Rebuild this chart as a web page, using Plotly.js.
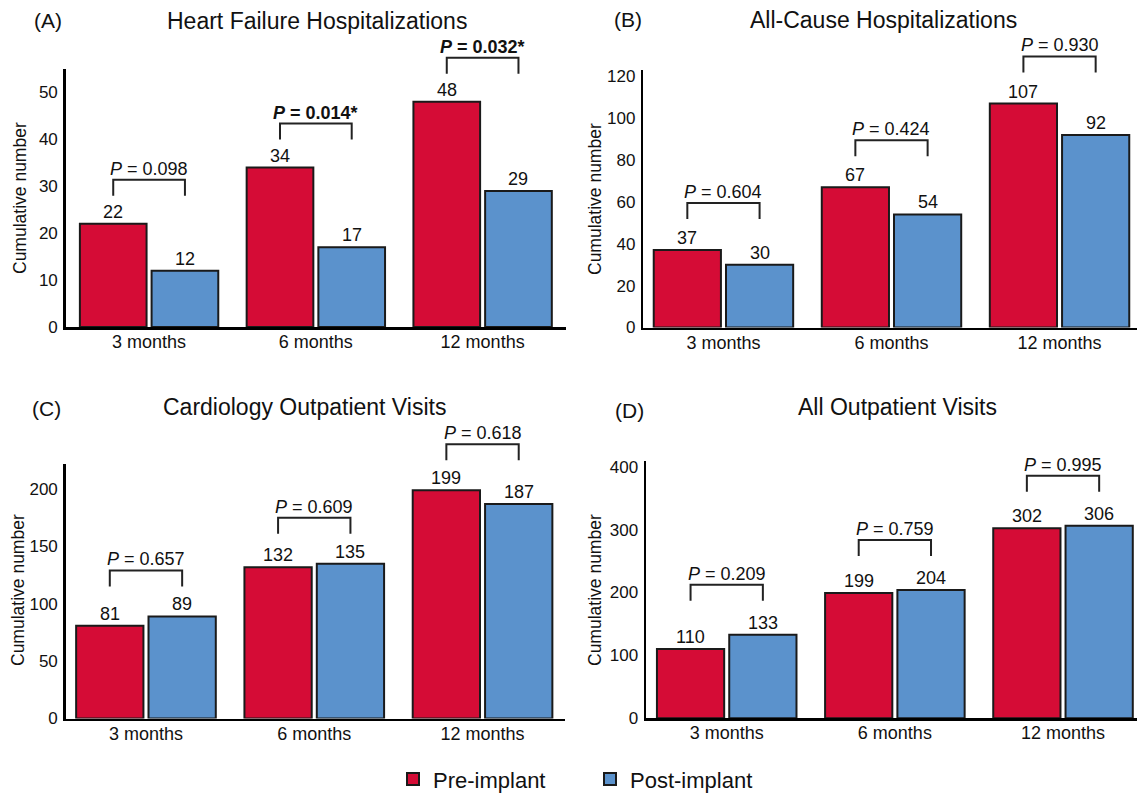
<!DOCTYPE html>
<html>
<head>
<meta charset="utf-8">
<script src="https://cdn.plot.ly/plotly-3.0.1.min.js"></script>
<style>html,body{margin:0;padding:0;background:#fff;}#chart{width:1137px;height:801px;}</style>
</head>
<body>
<div id="chart"></div>
<script>
// ---- Data ----
const categories = ['3 months', '6 months', '12 months'];
const seriesNames = ['Pre-implant', 'Post-implant'];

const hfPre = [22, 34, 48];
const hfPost = [12, 17, 29];
const hfP = ['0.098', '0.014', '0.032'];
const hfSig = [false, true, true];

const acPre = [37, 67, 107];
const acPost = [30, 54, 92];
const acP = ['0.604', '0.424', '0.930'];
const acSig = [false, false, false];

const coPre = [81, 132, 199];
const coPost = [89, 135, 187];
const coP = ['0.657', '0.609', '0.618'];
const coSig = [false, false, false];

const aoPre = [110, 199, 302];
const aoPost = [133, 204, 306];
const aoP = ['0.209', '0.759', '0.995'];
const aoSig = [false, false, false];

const yTitle = 'Cumulative number';

// ---- Style / layout ----
const W = 1137, H = 801;
const FONT = 'Arial, "Liberation Sans", Helvetica, sans-serif';
const RED = '#D50C36', BLUE = '#5B92CC', OUTLINE = '#1a1a1a';
const BARGAP = 0.14, GROUPGAP = 0.07;
const px = x => x / W;
const py = y => 1 - y / H;

const panels = [
  {pre: hfPre, post: hfPost, p: hfP, sig: hfSig, title: 'Heart Failure Hospitalizations', tag: '(A)',
   xd: [65.7, 566], yd: [69, 327], xr: [-0.5, 2.5], yr: [0, 55], dtick: 10,
   titlePos: [317, 21], tagPos: [48, 21], yTitlePos: [20, 198], gap: 28},
  {pre: acPre, post: acPost, p: acP, sig: acSig, title: 'All-Cause Hospitalizations', tag: '(B)',
   xd: [643.3, 1137], xr: [-0.477, 2.461], yd: [70, 327.5], yr: [0, 123], dtick: 20,
   titlePos: [883, 20], tagPos: [628, 20], yTitlePos: [595, 199], gap: 31},
  {pre: coPre, post: coPost, p: coP, sig: coSig, title: 'Cardiology Outpatient Visits', tag: '(C)',
   xd: [65.7, 565], xr: [-0.477, 2.49], yd: [464, 718.5], yr: [0, 222], dtick: 50,
   titlePos: [304, 407], tagPos: [46, 408], yTitlePos: [18, 590], gap: 30},
  {pre: aoPre, post: aoPost, p: aoP, sig: aoSig, title: 'All Outpatient Visits', tag: '(D)',
   xd: [646, 1137], xr: [-0.48, 2.44], yd: [461, 718.3], yr: [0, 409], dtick: 100,
   titlePos: [897, 407], tagPos: [629, 410], yTitlePos: [595, 590], gap: 34}
];

const xIdx = categories.map((c, i) => i);
const traces = [];
const shapes = [];
const annotations = [];
const layout = {
  width: W, height: H,
  margin: {l: 0, r: 0, t: 0, b: 0},
  paper_bgcolor: '#fff', plot_bgcolor: '#fff',
  font: {family: FONT, color: '#111', size: 18},
  barmode: 'group', bargap: BARGAP, bargroupgap: GROUPGAP,
  showlegend: true,
  legend: {orientation: 'h', x: px(393), xanchor: 'left', y: 0.001, yanchor: 'bottom',
           font: {family: FONT, size: 22, color: '#111'}, entrywidth: 152, entrywidthmode: 'pixels',
           traceorder: 'normal', bgcolor: 'rgba(0,0,0,0)'},
  shapes: shapes, annotations: annotations
};

panels.forEach((pn, k) => {
  const n = k === 0 ? '' : String(k + 1);
  const xa = 'x' + n, ya = 'y' + n;
  [pn.pre, pn.post].forEach((vals, s) => {
    traces.push({
      type: 'bar', x: xIdx, y: vals, name: seriesNames[s],
      xaxis: xa, yaxis: ya, legendgroup: seriesNames[s], showlegend: k === 0,
      marker: {color: s === 0 ? RED : BLUE, line: {color: OUTLINE, width: 2}},
      hoverinfo: 'x+y'
    });
  });
  layout['xaxis' + n] = {
    domain: [px(pn.xd[0]), px(pn.xd[1])], range: pn.xr, anchor: ya,
    tickvals: xIdx, ticktext: categories, ticks: '', ticklabelstandoff: -3, showgrid: false, zeroline: false,
    showline: true, linecolor: '#000', linewidth: 2.5, tickfont: {family: FONT, size: 18, color: '#111'},
    fixedrange: true
  };
  layout['yaxis' + n] = {
    domain: [py(pn.yd[1]), py(pn.yd[0])], range: pn.yr, anchor: xa,
    dtick: pn.dtick, tick0: 0, ticks: '', ticklabelstandoff: 2, showgrid: false, zeroline: false,
    showline: true, linecolor: '#000', linewidth: 2.5, tickfont: {family: FONT, size: 17, color: '#111'},
    fixedrange: true
  };
  // titles
  annotations.push({xref: 'paper', yref: 'paper', x: px(pn.titlePos[0]), y: py(pn.titlePos[1]),
    xanchor: 'center', yanchor: 'middle', text: pn.title, showarrow: false, font: {family: FONT, size: 23, color: '#111'}});
  annotations.push({xref: 'paper', yref: 'paper', x: px(pn.tagPos[0]), y: py(pn.tagPos[1]),
    xanchor: 'center', yanchor: 'middle', text: pn.tag, showarrow: false, font: {family: FONT, size: 21, color: '#111'}});
  annotations.push({xref: 'paper', yref: 'paper', x: px(pn.yTitlePos[0]), y: py(pn.yTitlePos[1]),
    xanchor: 'center', yanchor: 'middle', text: yTitle, textangle: -90, showarrow: false, font: {family: FONT, size: 17.5, color: '#111'}});

  // scale helpers (data -> pixel) for this panel
  const ppu = (pn.yd[1] - pn.yd[0]) / (pn.yr[1] - pn.yr[0]);
  const upx = (pn.xd[1] - pn.xd[0]) / (pn.xr[1] - pn.xr[0]);
  const X = v => pn.xd[0] + (v - pn.xr[0]) * upx;
  const Y = v => pn.yd[1] - v * ppu;
  const off = (1 - BARGAP) / 4;

  xIdx.forEach(i => {
    // value labels on bars
    [pn.pre, pn.post].forEach((vals, s) => {
      annotations.push({xref: xa, yref: ya, x: i + (s === 0 ? -off : off), y: vals[i],
        xanchor: 'center', yanchor: 'bottom', yshift: 0, text: String(vals[i]), showarrow: false,
        font: {family: FONT, size: 18, color: '#111'}});
    });
    // bracket + p-value
    const topPx = Y(Math.max(pn.pre[i], pn.post[i]));
    const ybPx = topPx - pn.gap;
    const ytPx = topPx - pn.gap - 16;
    const xl = X(i - off), xr = X(i + off);
    shapes.push({type: 'path', xref: 'paper', yref: 'paper',
      path: `M ${px(xl)},${py(ybPx)} L ${px(xl)},${py(ytPx)} L ${px(xr)},${py(ytPx)} L ${px(xr)},${py(ybPx)}`,
      line: {color: '#222', width: 2}});
    const txt = pn.sig[i] ? `<b><i>P</i> = ${pn.p[i]}*</b>` : `<i>P</i> = ${pn.p[i]}`;
    annotations.push({xref: 'paper', yref: 'paper', x: px(X(i)), y: py(ytPx - 11), xanchor: 'center', yanchor: 'middle',
      text: txt, showarrow: false, font: {family: FONT, size: 18, color: '#111'}});
  });
});

Plotly.newPlot('chart', traces, layout, {displayModeBar: false, staticPlot: true});
</script>
</body>
</html>
